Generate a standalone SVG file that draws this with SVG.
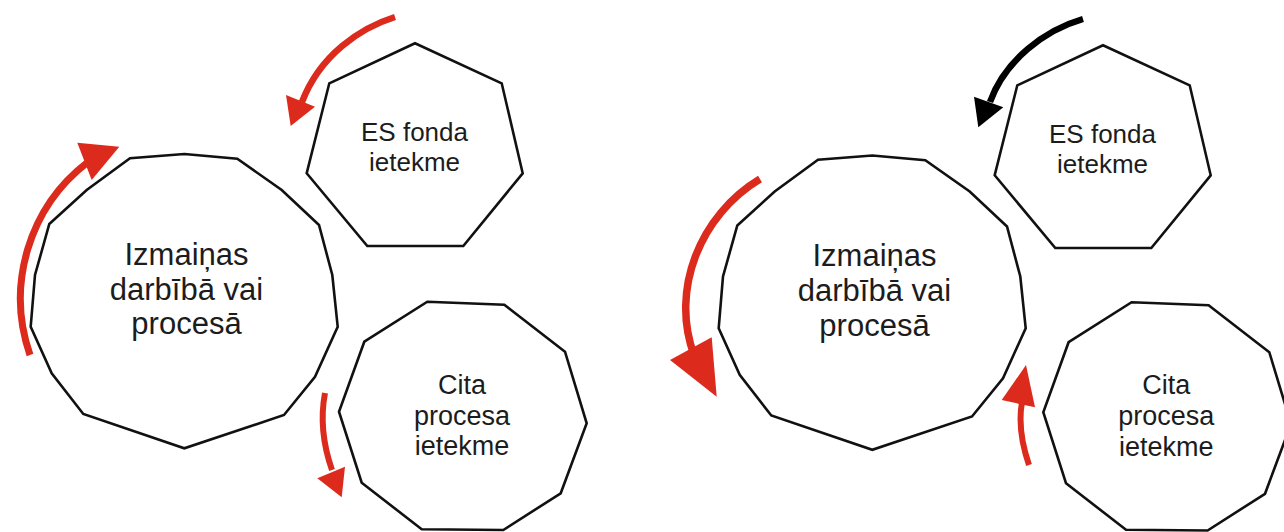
<svg xmlns="http://www.w3.org/2000/svg" width="1284" height="532" viewBox="0 0 1284 532">
<style>
.shape{fill:#ffffff;stroke:#111111;stroke-width:2.6;stroke-linejoin:miter}
.t{font-family:"Liberation Sans",Arial,sans-serif;fill:#1c1c1c;text-anchor:middle}
.big{font-size:31px}
.es{font-size:26px}
.cita{font-size:27px}
.red{fill:none;stroke:#dc2b1d;stroke-linecap:butt}
.redh{fill:#dc2b1d;stroke:none}
.blk{fill:none;stroke:#000000;stroke-linecap:butt}
.blkh{fill:#000000;stroke:none}
</style>
<rect width="1284" height="532" fill="#ffffff"/>

<g id="left-izmainas">
<polygon class="shape" points="184.3,154 237.3,158.7 281.7,190 319,225 332.3,275 337.7,326.7 315,376.7 284,415 184.3,448.3 83.3,414 51.7,373.3 30.7,326.7 35,275 49.3,224 86.7,190 130,158.3"/>
<text class="t big" x="186.5" y="264.5">Izmaiņas</text>
<text class="t big" x="186.5" y="299.5">darbībā vai</text>
<text class="t big" x="186.5" y="334">procesā</text>
</g>

<g id="left-es">
<polygon class="shape" points="415,43.3 501.7,83.3 522.7,173.3 463.3,246 367.3,246 306.7,173.3 329.3,83.3"/>
<text class="t es" x="414.5" y="140.5">ES fonda</text>
<text class="t es" x="414.5" y="171">ietekme</text>
</g>

<g id="left-cita">
<polygon class="shape" points="427.3,301.7 504.3,304.7 565,351.7 586.7,423.3 560.7,493.3 503.3,530 421.7,529.3 361.7,482.7 339,411.7 364.3,341.7"/>
<text class="t cita" x="462" y="393.5">Cita</text>
<text class="t cita" x="462" y="424.5">procesa</text>
<text class="t cita" x="462" y="455">ietekme</text>
</g>

<g id="right-izmainas" transform="translate(688,1.5)">
<polygon class="shape" points="184.3,154 237.3,158.7 281.7,190 319,225 332.3,275 337.7,326.7 315,376.7 284,415 184.3,448.3 83.3,414 51.7,373.3 30.7,326.7 35,275 49.3,224 86.7,190 130,158.3"/>
<text class="t big" x="186.5" y="264.5">Izmaiņas</text>
<text class="t big" x="186.5" y="299.5">darbībā vai</text>
<text class="t big" x="186.5" y="334">procesā</text>
</g>

<g id="right-es" transform="translate(688,2)">
<polygon class="shape" points="415,43.3 501.7,83.3 522.7,173.3 463.3,246 367.3,246 306.7,173.3 329.3,83.3"/>
<text class="t es" x="414.5" y="140.5">ES fonda</text>
<text class="t es" x="414.5" y="171">ietekme</text>
</g>

<g id="right-cita" transform="translate(704.3,0.5)">
<polygon class="shape" points="427.3,301.7 504.3,304.7 565,351.7 586.7,423.3 560.7,493.3 503.3,530 421.7,529.3 361.7,482.7 339,411.7 364.3,341.7"/>
<text class="t cita" x="462" y="393.5">Cita</text>
<text class="t cita" x="462" y="424.5">procesa</text>
<text class="t cita" x="462" y="455">ietekme</text>
</g>

<g id="connectors">
<!-- left side -->
<path class="red" stroke-width="6.5" d="M395,17 C360,28 320,55 302,102"/>
<polygon class="redh" points="290.7,126 286,95 315,106.7"/>

<path class="red" stroke-width="7" d="M30,355 A172,172 0 0 1 88,162"/>
<polygon class="redh" points="119.3,146.7 77.3,142.7 91.7,180"/>

<path class="red" stroke-width="6" d="M325,393 Q318,430 332,470"/>
<polygon class="redh" points="341.7,497.3 317.3,478.3 345,466.7"/>

<!-- right side -->
<path class="blk" stroke-width="6.5" d="M1083,19 C1045,30 1005,60 990,102"/>
<polygon class="blkh" points="978.3,127.3 974,96.7 1003.3,107.3"/>

<path class="red" stroke-width="7.5" d="M760,179 C700,215 670,290 694,355"/>
<polygon class="redh" points="716.7,396.7 670,360 711.7,337.3"/>

<path class="red" stroke-width="6" d="M1029,465 Q1017,430 1022,402"/>
<polygon class="redh" points="1026,365 1001.7,400 1035,407.3"/>
</g>
</svg>
